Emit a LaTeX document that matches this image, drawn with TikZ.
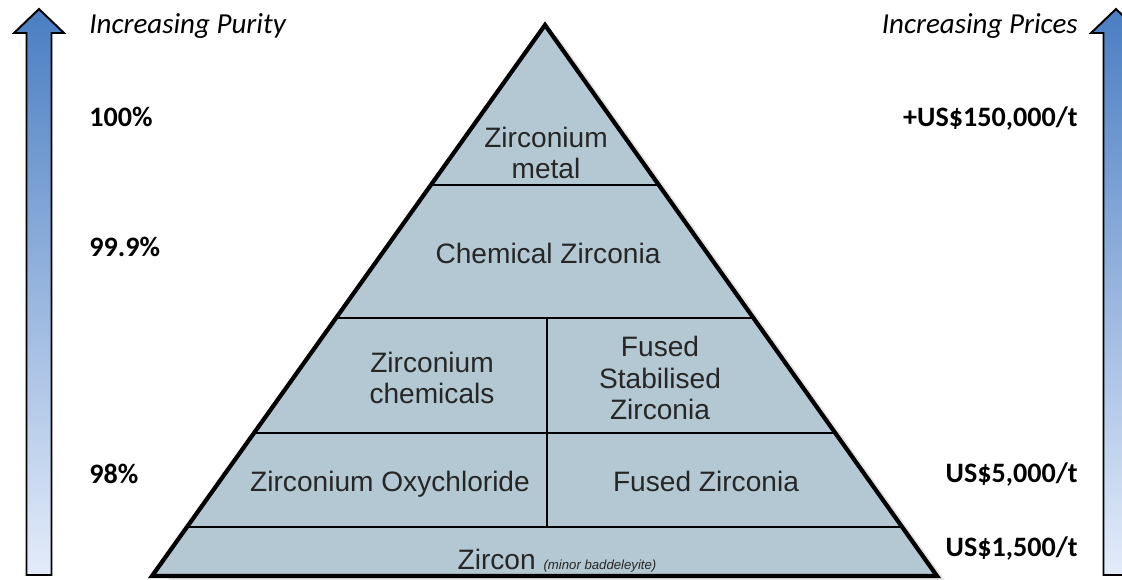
\documentclass[tikz,border=0pt]{standalone}
\usepackage{fontspec}
\setmainfont{Liberation Sans}
\newfontfamily\labelfont{Carlito}
\usetikzlibrary{calc}
\definecolor{stone}{RGB}{180,200,212}
\definecolor{arrowtop}{RGB}{74,126,194}
\definecolor{arrowbot}{RGB}{228,236,250}
\begin{document}
\begin{tikzpicture}[
      x=0.02cm, y=-0.02cm,
      % --- STYLES ---
      every node/.style={inner sep=0pt},
      tier/.style={font=\fontsize{16}{18}\selectfont, align=center, text=black!85},
      side/.style={font=\labelfont\bfseries\fontsize{16}{19}\selectfont},
      sidehead/.style={font=\labelfont\itshape\fontsize{16.5}{19}\selectfont},
      divider/.style={line width=1.2pt, draw=black},
      outline/.style={line width=2.4pt, draw=black, line join=miter},
      blockarrow/.style={draw=black, line width=1.1pt, top color=arrowtop, bottom color=arrowbot}
  ]
    %
    % 0. Frame
    \useasboundingbox (0,0) rectangle (1122,579);
    \clip (0,0) rectangle (1122,579);
    %
    % 1. Pyramid corners
    \coordinate (apex) at (545,25);
    \coordinate (bl) at (152,576);
    \coordinate (br) at (937,576);
    %
    % 2. Shadow and body
    \fill[black!10] ($(apex)+(12,10)$) -- ($(bl)+(12,10)$) -- ($(br)+(12,10)$) -- cycle;
    \fill[stone] (apex) -- (bl) -- (br) -- cycle;
    %
    % 3. Tier lines
    \draw[divider] ($(apex)!0.2904!(bl)$) -- ($(apex)!0.2904!(br)$);
    \draw[divider] ($(apex)!0.5318!(bl)$) -- ($(apex)!0.5318!(br)$);
    \draw[divider] ($(apex)!0.7405!(bl)$) -- ($(apex)!0.7405!(br)$);
    \draw[divider] ($(apex)!0.9111!(bl)$) -- ($(apex)!0.9111!(br)$);
    \draw[divider] (547,318) -- (547,527);
    \draw[outline] (apex) -- (bl) -- (br) -- cycle;
    %
    % 4. Tier labels
    \node[tier] (metal) at (546,153) {Zirconium\\metal};
    \node[tier, anchor=base] (chemzr) at (548,263) {Chemical Zirconia};
    \node[tier] (zrchem) at (432,378) {Zirconium\\chemicals};
    \node[tier] (fsz) at (660,378) {Fused\\Stabilised\\Zirconia};
    \node[tier, anchor=base] (oxy) at (390,491) {Zirconium Oxychloride};
    \node[tier, anchor=base] (fused) at (706,491) {Fused Zirconia};
    \node[tier, anchor=base] (zircon) at (557,569) {Zircon {\itshape\fontsize{7.5}{8}\selectfont (minor baddeleyite)}};
    %
    % 5. Side arrows
    \draw[blockarrow] (39,9) -- (64,33) -- (51.5,33) -- (51.5,575) -- (26.5,575) -- (26.5,33) -- (14,33) -- cycle;
    \draw[blockarrow] (1116,9) -- (1141,33) -- (1128.5,33) -- (1128.5,575) -- (1103.5,575) -- (1103.5,33) -- (1091,33) -- cycle;
    %
    % 6. Purity scale
    \node[sidehead, anchor=base west] (purity) at (89,33) {Increasing Purity};
    \node[side, anchor=base west] (p100) at (89,126) {100\%};
    \node[side, anchor=base west] (p999) at (89,256) {99.9\%};
    \node[side, anchor=base west] (p98) at (89,483) {98\%};
    %
    % 7. Price scale
    \node[sidehead, anchor=base east] (prices) at (1078,33) {Increasing Prices};
    \node[side, anchor=base east] (c150k) at (1078,126) {+US\$150,000/t};
    \node[side, anchor=base east] (c5k) at (1078,482) {US\$5,000/t};
    \node[side, anchor=base east] (c1k) at (1078,556) {US\$1,500/t};
  \end{tikzpicture}
\end{document}
